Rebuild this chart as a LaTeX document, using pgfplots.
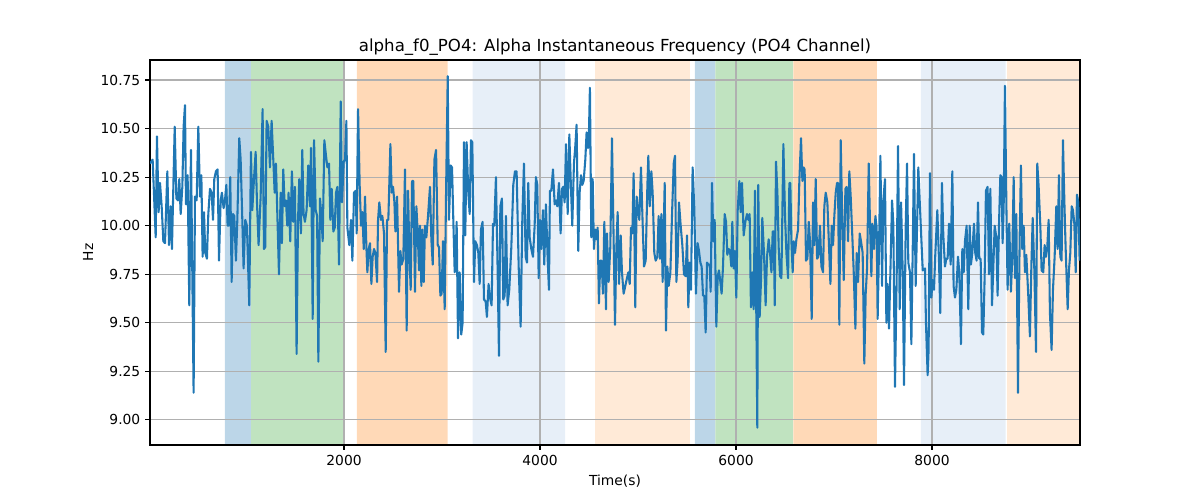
\documentclass[border=0pt]{standalone}
\usepackage{fontspec}
\setmainfont{DejaVu Sans}
\usepackage{pgfplots}
\pgfplotsset{compat=1.18}
\definecolor{tabblue}{HTML}{1F77B4}
\definecolor{spanblue}{RGB}{188,214,232}
\definecolor{spangreen}{RGB}{192,227,192}
\definecolor{spanorange}{RGB}{255,217,183}
\definecolor{spanlblue}{RGB}{231,239,248}
\definecolor{spanlorange}{RGB}{255,234,215}
\definecolor{gridgray}{HTML}{B0B0B0}
\begin{document}
\begin{tikzpicture}
\begin{axis}[
  set layers,
  at={(1.5in,0.55in)}, anchor=south west,
  width=9.3in, height=3.85in, scale only axis,
  xmin=20, xmax=9510, ymin=8.871, ymax=10.853,
  xtick={2000,4000,6000,8000},
  ytick={9,9.25,9.5,9.75,10,10.25,10.5,10.75},
  grid=major,
  major grid style={gridgray, line width=0.8pt},
  axis line style={black, line width=0.8pt},
  tick align=outside, xtick pos=bottom, ytick pos=left,
  major tick length=3.5pt,
  tick style={black, line width=0.8pt},
  tick label style={font=\fontsize{10}{12}\selectfont},
  /pgf/number format/assume math mode=true,
  xticklabel style={/pgf/number format/1000 sep={}},
  yticklabel style={/pgf/number format/.cd, fixed, fixed zerofill, precision=2},
  label style={font=\fontsize{10}{12}\selectfont},
  xlabel={Time(s)}, ylabel={Hz},
  xlabel style={at={(axis description cs:0.5,-0.0935)}, anchor=center},
  ylabel style={at={(axis description cs:-0.0667,0.5)}, anchor=center},
  title={alpha\_f0\_PO4: Alpha Instantaneous Frequency (PO4 Channel)},
  title style={font=\fontsize{12}{14}\selectfont, at={(axis description cs:0.5,1)}, anchor=base},
]
\addplot[draw=none, fill=spanblue, on layer=axis background] coordinates {(785,8.871) (1051,8.871) (1051,10.853) (785,10.853) (785,8.871)};
\addplot[draw=none, fill=spangreen, on layer=axis background] coordinates {(1051,8.871) (2000,8.871) (2000,10.853) (1051,10.853) (1051,8.871)};
\addplot[draw=none, fill=spanorange, on layer=axis background] coordinates {(2132,8.871) (3058,8.871) (3058,10.853) (2132,10.853) (2132,8.871)};
\addplot[draw=none, fill=spanlblue, on layer=axis background] coordinates {(3313,8.871) (4255,8.871) (4255,10.853) (3313,10.853) (3313,8.871)};
\addplot[draw=none, fill=spanlorange, on layer=axis background] coordinates {(4561,8.871) (5530,8.871) (5530,10.853) (4561,10.853) (4561,8.871)};
\addplot[draw=none, fill=spanblue, on layer=axis background] coordinates {(5581,8.871) (5788,8.871) (5788,10.853) (5581,10.853) (5581,8.871)};
\addplot[draw=none, fill=spangreen, on layer=axis background] coordinates {(5788,8.871) (6582,8.871) (6582,10.853) (5788,10.853) (5788,8.871)};
\addplot[draw=none, fill=spanorange, on layer=axis background] coordinates {(6584,8.871) (7438,8.871) (7438,10.853) (6584,10.853) (6584,8.871)};
\addplot[draw=none, fill=spanlblue, on layer=axis background] coordinates {(7887,8.871) (8752,8.871) (8752,10.853) (7887,10.853) (7887,8.871)};
\addplot[draw=none, fill=spanlorange, on layer=axis background] coordinates {(8765,8.871) (9510,8.871) (9510,10.853) (8765,10.853) (8765,8.871)};
\addplot[tabblue, line width=1.5pt, line join=round, mark=none] table {
x y
20 10.32
47 10.34
78 9.94
91 10.46
108 10.07
122 10.22
139 10.10
156 9.92
173 9.91
197 10.28
214 9.90
231 10.10
244 9.88
272 10.51
289 10.14
306 10.13
319 10.24
333 10.06
350 10.20
363 10.51
377 10.62
387 10.11
404 10.26
421 9.59
438 10.39
465 9.14
479 10.15
496 10.13
513 10.51
530 10.15
544 10.26
557 9.84
571 10.07
584 9.86
601 9.83
615 10.06
632 10.19
649 10.17
663 10.03
676 10.24
693 10.28
710 10.29
724 9.82
741 10.13
754 10.17
771 10.09
785 10.13
799 10.21
812 10.00
826 10.00
839 10.25
853 9.71
867 10.06
880 10.05
897 9.82
911 10.03
931 10.45
945 10.34
962 10.03
975 9.78
992 10.03
1009 10.00
1033 9.59
1050 10.38
1064 10.08
1081 10.24
1098 10.38
1111 10.13
1128 9.90
1149 10.15
1169 10.60
1183 9.88
1196 9.89
1210 10.54
1227 10.51
1244 10.30
1261 10.54
1278 10.34
1292 10.17
1305 10.32
1322 10.01
1336 9.75
1353 10.17
1366 9.91
1380 10.29
1394 10.10
1407 10.13
1421 10.00
1434 10.17
1451 9.92
1468 10.28
1482 10.02
1499 10.20
1516 9.34
1530 10.02
1543 10.24
1560 9.96
1574 10.39
1587 10.06
1601 10.02
1618 10.08
1635 10.31
1652 10.10
1663 10.40
1680 9.52
1694 10.44
1711 10.08
1725 10.05
1738 9.30
1755 10.14
1769 10.05
1782 9.92
1799 10.44
1816 10.36
1830 10.30
1847 10.32
1860 10.03
1874 10.19
1891 9.97
1905 9.99
1918 10.17
1932 10.20
1949 9.80
1966 10.64
1979 10.12
1997 10.33
2010 10.34
2024 10.54
2034 9.99
2054 9.90
2071 10.03
2085 9.82
2102 10.17
2119 10.18
2129 9.96
2143 10.60
2160 10.20
2173 10.00
2187 10.07
2201 9.88
2214 10.15
2228 9.89
2238 9.76
2252 9.88
2265 9.91
2279 9.70
2292 9.84
2306 9.88
2320 9.86
2337 9.71
2347 10.03
2360 10.12
2377 10.03
2391 10.05
2408 9.96
2425 9.35
2439 10.03
2452 10.03
2473 10.42
2486 10.17
2500 10.20
2514 10.12
2524 9.97
2541 10.15
2561 9.66
2575 9.87
2588 9.80
2605 9.83
2622 10.29
2639 9.46
2653 10.18
2667 9.86
2680 9.67
2694 10.23
2707 10.23
2724 9.66
2738 10.10
2752 9.96
2765 9.77
2775 10.00
2789 9.69
2799 9.98
2813 9.71
2826 10.00
2840 9.94
2857 10.05
2877 10.20
2891 9.93
2905 9.80
2922 10.34
2939 10.39
2956 9.90
2969 9.89
2983 9.64
2996 9.65
3010 9.92
3027 9.57
3041 10.17
3058 10.77
3071 10.03
3088 10.31
3102 10.30
3115 10.03
3129 9.76
3139 9.84
3149 10.02
3163 9.42
3180 9.76
3196 9.44
3210 9.50
3224 10.43
3237 9.95
3251 10.43
3268 10.17
3282 10.06
3295 10.44
3309 10.43
3326 9.71
3339 9.92
3356 9.90
3370 9.86
3384 9.70
3397 9.98
3414 10.02
3428 9.62
3445 9.61
3458 9.53
3475 9.70
3489 9.63
3506 9.59
3520 10.01
3533 10.00
3550 10.25
3567 9.78
3581 9.33
3595 10.10
3611 10.14
3625 9.62
3639 9.64
3652 10.05
3669 9.59
3686 9.67
3707 9.89
3727 10.21
3744 10.28
3761 10.28
3782 9.79
3802 9.48
3819 10.03
3836 10.32
3853 9.84
3867 9.81
3880 10.22
3894 9.94
3911 9.88
3928 9.84
3945 10.00
3958 10.25
3972 10.21
3986 9.73
3999 10.03
4013 9.88
4030 10.08
4043 9.80
4060 10.11
4077 9.84
4091 9.67
4101 10.18
4115 10.18
4132 10.29
4149 10.11
4162 10.13
4176 10.10
4193 10.22
4210 9.96
4224 10.19
4237 10.20
4251 10.12
4265 10.42
4282 10.06
4299 10.47
4312 10.25
4329 10.00
4346 10.32
4360 10.41
4373 10.52
4390 9.87
4404 10.17
4418 10.26
4431 10.21
4445 10.23
4462 10.34
4475 10.48
4489 10.40
4499 10.48
4509 10.71
4523 9.94
4537 10.24
4550 9.88
4564 9.98
4577 9.93
4588 9.99
4601 9.60
4615 9.82
4628 9.82
4642 9.65
4656 10.02
4673 9.57
4683 9.96
4700 9.71
4717 9.89
4734 10.45
4747 10.05
4765 9.49
4779 9.89
4792 10.07
4806 9.70
4823 9.95
4836 9.76
4853 9.65
4870 9.69
4887 9.73
4901 9.76
4915 9.70
4928 9.99
4942 9.96
4955 10.27
4972 9.58
4986 10.15
5000 10.08
5013 10.03
5030 10.30
5047 10.01
5061 9.79
5078 9.82
5095 10.20
5105 10.36
5119 10.10
5136 10.28
5149 10.17
5166 9.86
5180 9.82
5197 9.84
5210 10.05
5224 9.83
5238 10.06
5251 9.71
5272 10.22
5285 9.46
5299 9.79
5313 9.69
5330 9.76
5347 10.06
5364 10.32
5377 10.36
5391 9.71
5404 9.82
5418 10.12
5435 10.00
5452 9.90
5469 9.75
5486 9.74
5500 9.95
5513 9.58
5527 9.81
5540 9.67
5557 10.30
5574 10.09
5591 9.65
5608 9.91
5622 9.87
5636 9.81
5649 9.79
5663 9.64
5676 9.64
5690 9.45
5704 9.81
5717 9.80
5731 9.80
5741 9.66
5755 10.22
5768 9.92
5782 10.03
5799 9.48
5813 9.74
5826 9.77
5840 9.71
5853 9.65
5867 9.79
5884 10.06
5898 10.02
5911 9.85
5925 9.88
5938 9.87
5952 9.79
5962 10.02
5976 9.78
5989 9.87
6003 9.63
6017 10.08
6034 10.23
6047 10.07
6061 10.22
6078 9.95
6095 10.02
6112 10.06
6125 10.03
6139 10.06
6152 9.58
6166 9.76
6180 9.57
6193 10.18
6207 9.53
6217 8.96
6227 10.21
6241 9.53
6255 9.72
6268 10.04
6285 9.86
6302 9.59
6316 9.84
6333 9.93
6347 9.86
6361 9.76
6374 9.97
6385 9.97
6395 9.59
6408 10.33
6422 10.17
6435 9.89
6449 9.74
6463 9.73
6483 10.42
6500 10.05
6514 9.86
6531 9.73
6544 10.22
6554 10.22
6565 9.92
6578 9.76
6588 9.92
6602 9.86
6616 9.93
6633 9.98
6646 10.23
6663 10.45
6677 10.23
6690 10.30
6700 10.29
6714 9.82
6728 9.83
6742 10.02
6755 9.92
6772 9.52
6786 10.12
6799 9.90
6813 10.24
6827 9.83
6840 9.84
6857 10.00
6871 9.79
6888 9.76
6901 10.10
6915 10.17
6932 10.12
6949 9.89
6963 9.70
6976 10.00
6990 9.90
7003 10.05
7017 10.17
7031 10.22
7041 10.22
7054 9.49
7068 10.44
7082 10.08
7099 9.72
7116 10.19
7129 10.20
7143 9.92
7156 10.28
7170 10.15
7187 9.94
7201 9.76
7218 9.47
7231 9.86
7245 9.71
7262 9.96
7275 9.92
7292 9.86
7309 9.29
7323 9.65
7337 9.78
7354 10.32
7367 10.01
7381 9.74
7391 10.01
7408 9.88
7422 10.05
7435 9.99
7445 9.52
7459 9.88
7473 10.36
7490 9.69
7503 10.13
7520 10.24
7534 9.50
7547 9.70
7561 9.47
7575 9.76
7592 10.13
7605 10.01
7622 9.17
7639 9.73
7653 10.41
7670 9.57
7684 10.12
7701 9.76
7714 9.18
7731 9.99
7745 10.32
7758 9.81
7775 9.76
7789 9.39
7803 9.88
7816 10.37
7833 9.69
7847 9.99
7860 10.30
7874 10.13
7891 9.93
7905 9.77
7928 9.78
7938 9.50
7955 9.23
7965 9.36
7979 10.27
7993 9.63
8006 9.72
8020 9.67
8033 9.85
8054 10.08
8071 9.82
8084 9.55
8101 10.22
8115 9.95
8132 9.79
8146 9.83
8159 9.83
8173 10.01
8190 9.80
8207 10.28
8220 9.69
8234 9.63
8248 9.67
8265 9.84
8278 9.76
8295 9.39
8309 9.88
8323 9.76
8336 9.92
8353 10.00
8370 9.57
8384 10.00
8397 9.80
8411 9.86
8428 10.01
8441 9.86
8455 9.82
8469 10.12
8482 9.83
8496 9.83
8510 9.45
8523 9.44
8537 9.74
8550 10.18
8567 10.20
8581 9.75
8595 10.19
8612 9.59
8625 9.78
8639 10.00
8656 9.94
8669 9.64
8683 10.00
8697 10.26
8710 10.25
8720 9.91
8731 10.10
8744 10.72
8758 10.13
8771 9.67
8788 10.01
8805 9.66
8819 9.84
8833 10.25
8846 9.73
8860 10.06
8877 9.14
8894 9.93
8907 10.31
8921 9.88
8935 10.00
8948 9.76
8962 9.85
8982 9.64
8999 9.43
9013 9.78
9027 10.04
9044 9.77
9061 9.35
9074 10.32
9088 10.20
9105 10.00
9118 9.77
9135 9.76
9149 9.90
9163 9.84
9176 9.89
9190 10.03
9203 9.55
9220 9.36
9234 9.67
9251 9.84
9268 10.10
9282 9.88
9295 10.26
9309 9.84
9322 9.82
9336 10.44
9350 10.13
9363 9.89
9384 9.57
9397 9.77
9411 9.86
9425 10.10
9438 10.08
9452 10.01
9466 9.76
9479 10.16
9493 10.12
9506 9.82
};
\end{axis}
\pgfresetboundingbox
\path (0,0) rectangle (12in,5in);
\end{tikzpicture}
\end{document}
